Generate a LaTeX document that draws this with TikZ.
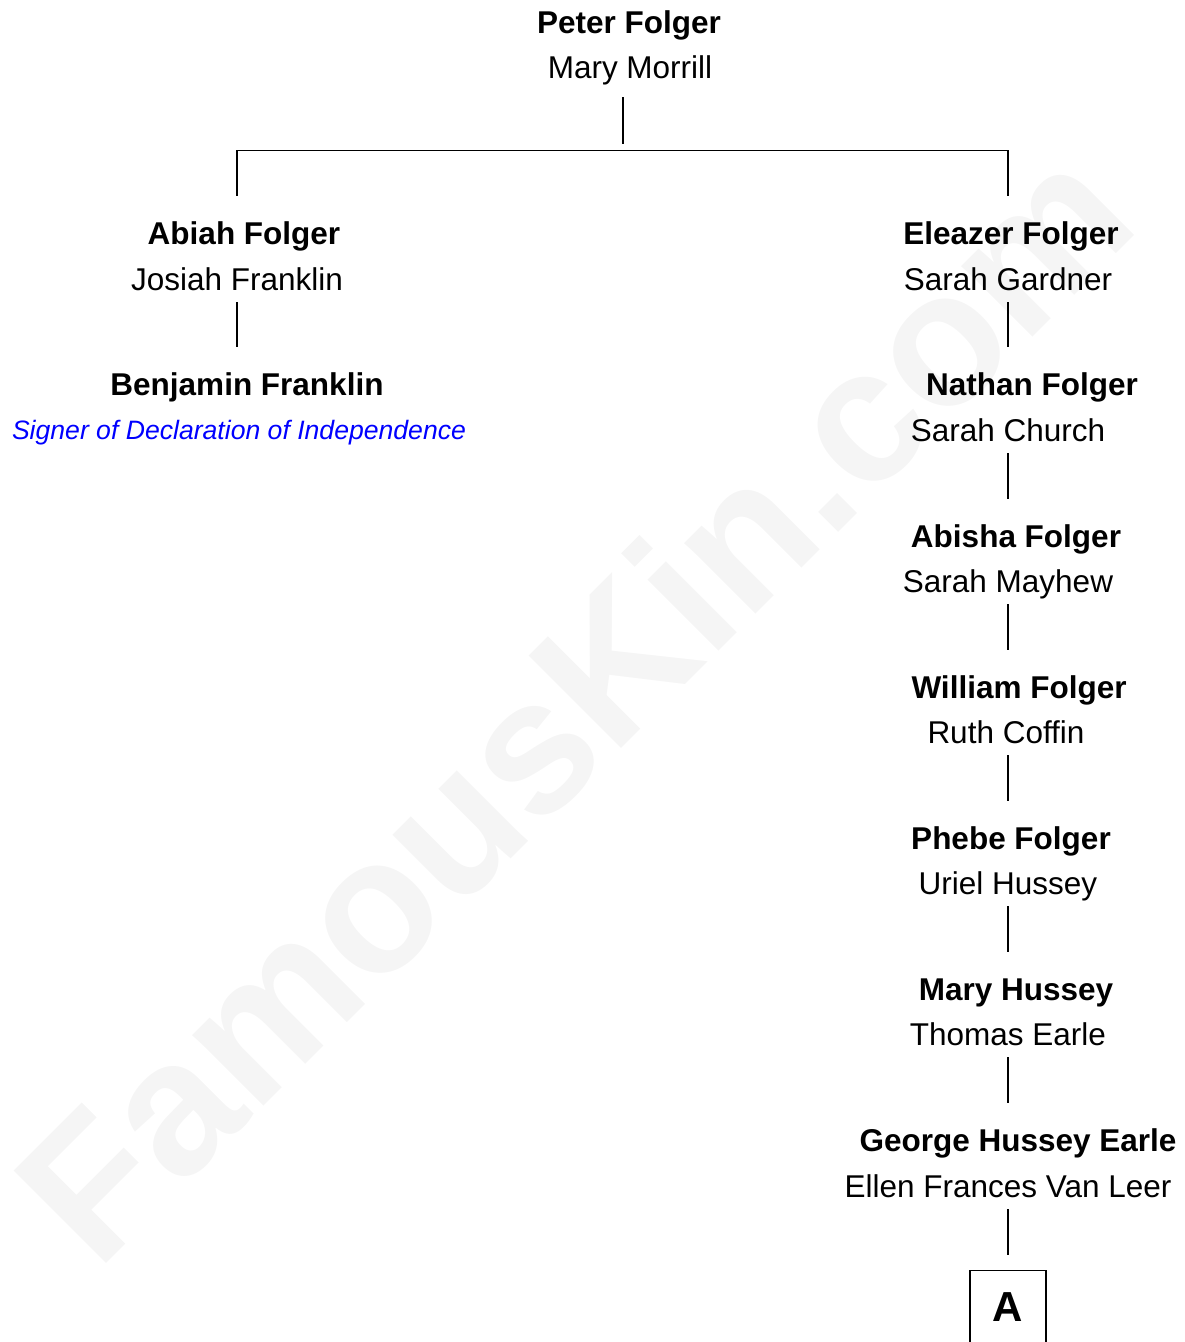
\documentclass[tikz,border=0pt]{standalone}
\usepackage{fontspec}
\setmainfont{Liberation Sans}
\usepackage{xcolor}
\usepackage{tikz}
\usetikzlibrary{
    calc,
    positioning
}
\newcommand{\famsz}{\fontsize{31.5}{38}\selectfont}

\begin{document}
\begin{tikzpicture}[
    x=1pt, y=-1pt,
    kin/.style={anchor=base, font=\famsz\bfseries, inner sep=0pt, text height=23pt, text depth=7pt},
    spouse/.style={anchor=base, font=\famsz, inner sep=0pt, text height=23pt, text depth=12pt},
    link/.style={line width=1.2pt}
]
\useasboundingbox (0,0) rectangle (1185,1342);

% Watermark
\node[rotate=45, text=black!4, font=\fontsize{190}{190}\selectfont\bfseries] (mark) at (572,702) {FamousKin.com};

% Root couple
\node[kin] (pfolger) at (629,33) {Peter Folger};
\node[spouse] (mmorrill) at (630,78) {Mary Morrill};

% Left branch
\node[kin] (abfolger) at (244,244) {Abiah Folger};
\node[spouse] (jfranklin) at (237,290) {Josiah Franklin};
\node[kin] (bfranklin) at (247,395) {Benjamin Franklin};
\node[spouse, font=\fontsize{26.6}{32}\selectfont\itshape, text=blue, text height=20pt, text depth=6pt] (signer) at (239,439) {Signer of Declaration of Independence};

% Right branch
\node[kin] (elfolger) at (1011,244) {Eleazer Folger};
\node[spouse] (sgardner) at (1008,290) {Sarah Gardner};
\node[kin] (nfolger) at (1032,395) {Nathan Folger};
\node[spouse] (schurch) at (1008,441) {Sarah Church};
\node[kin] (asfolger) at (1016,547) {Abisha Folger};
\node[spouse] (smayhew) at (1008,592) {Sarah Mayhew};
\node[kin] (wfolger) at (1019,698) {William Folger};
\node[spouse] (rcoffin) at (1006,743) {Ruth Coffin};
\node[kin] (phfolger) at (1011,849) {Phebe Folger};
\node[spouse] (uhussey) at (1008,894) {Uriel Hussey};
\node[kin] (mhussey) at (1016,1000) {Mary Hussey};
\node[spouse] (tearle) at (1008,1045) {Thomas Earle};
\node[kin] (gearle) at (1018,1151) {George Hussey Earle};
\node[spouse] (evanleer) at (1008,1197) {Ellen Frances Van Leer};

% Continuation box
\node[draw, line width=1.2pt, anchor=north, minimum width=76pt, minimum height=90pt,
      inner sep=0pt, text height=30pt, text depth=18pt,
      font=\fontsize{42}{50}\selectfont\bfseries] (boxA) at (1008,1270) {A};

% Connections
\draw[link, shorten <=7pt] ([xshift=-7pt]mmorrill.south) -- ++(0,54);
\draw[link, shorten <=25pt, shorten >=25pt] (jfranklin.south |- abfolger.north) -- ++(0,-70)
    -| (sgardner.south |- elfolger.north);
\draw[link, shorten >=25pt] (jfranklin.south) -- (jfranklin.south |- bfranklin.north);

\foreach \a/\b in {sgardner/nfolger, schurch/asfolger, smayhew/wfolger,
                   uhussey/mhussey, tearle/gearle} {
    \draw[link, shorten >=25pt] (\a.south) -- (\a.south |- \b.north);
}
\draw[link, shorten >=25pt] (rcoffin.south -| uhussey.south) -- (uhussey.south |- phfolger.north);
\draw[link, shorten >=15pt] (evanleer.south) -- (boxA.north);

\end{tikzpicture}
\end{document}
